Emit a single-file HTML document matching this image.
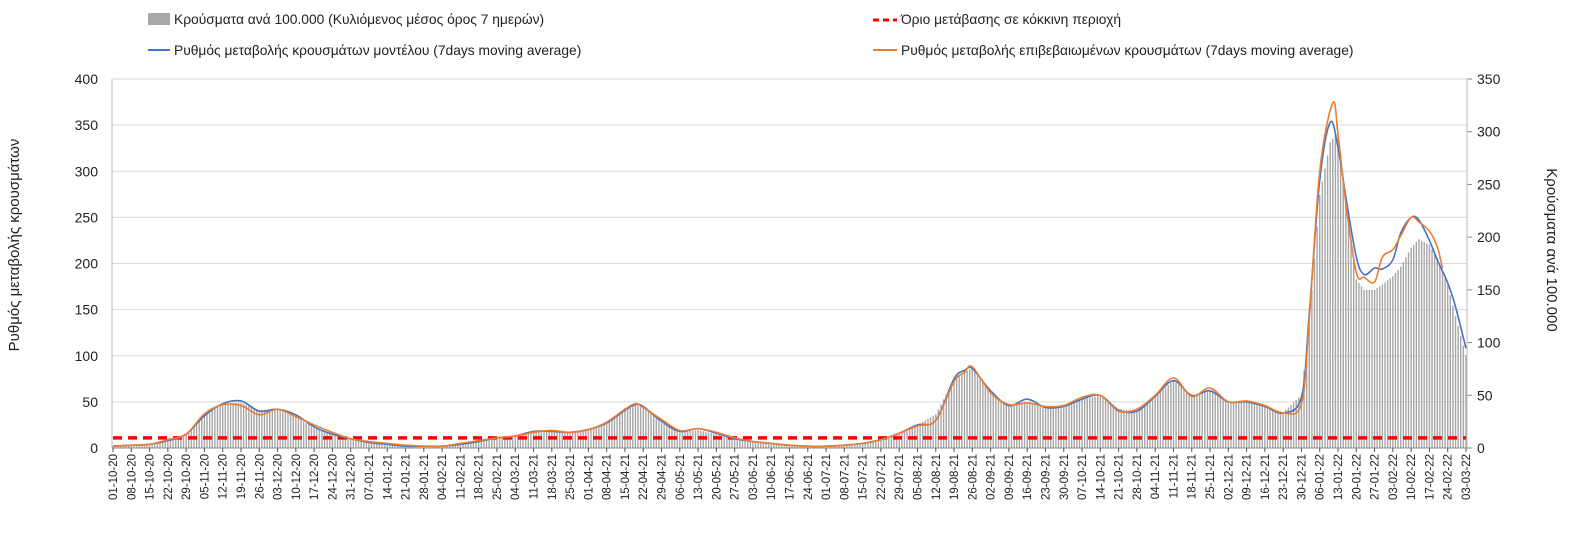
<!DOCTYPE html>
<html><head><meta charset="utf-8">
<style>
html,body{margin:0;padding:0;background:#fff;}
svg{display:block;font-family:"Liberation Sans",sans-serif;}
</style></head>
<body>
<svg id="chart" width="1572" height="536" viewBox="0 0 1572 536" xmlns="http://www.w3.org/2000/svg">
<g id="grid"></g>
<g id="bars"></g>
<g id="lines"></g>
<g id="axes"></g>
<g font-size="13.8" fill="#222">
<rect x="148" y="13" width="22" height="12" fill="#a8a8a8"/>
<text x="174" y="24">Κρούσματα ανά 100.000 (Κυλιόμενος μέσος όρος 7 ημερών)</text>
<line x1="873" y1="20" x2="897" y2="20" stroke="#ff0000" stroke-width="3" stroke-dasharray="6,4"/>
<text x="901" y="24">Όριο μετάβασης σε κόκκινη περιοχή</text>
<line x1="148" y1="50" x2="170" y2="50" stroke="#4472c4" stroke-width="2"/>
<text x="174" y="55">Ρυθμός μεταβολής κρουσμάτων μοντέλου (7days moving average)</text>
<line x1="873" y1="50" x2="897" y2="50" stroke="#ed7d31" stroke-width="2"/>
<text x="901" y="55">Ρυθμός μεταβολής επιβεβαιωμένων κρουσμάτων (7days moving average)</text>
</g>
<text transform="translate(19,245) rotate(-90)" text-anchor="middle" font-size="15" fill="#222">Ρυθμός μεταβολής κρουσμάτων</text>
<text transform="translate(1547,250) rotate(90)" text-anchor="middle" font-size="15" fill="#222">Κρούσματα ανά 100.000</text>
</svg>
<script>
// ---- data ----
const lineDays = [0,7,14,21,28,35,42,49,56,63,70,77,84,91,98,105,112,119,126,133,140,147,154,161,168,175,182,189,196,200,203,210,217,224,231,238,245,252,259,266,273,280,287,294,301,308,315,322,326,329,336,343,350,357,364,371,378,385,392,399,406,413,420,427,434,441,448,455,458,462,466,469,472,476,479,483,486,490,493,497,500,504,507,511,514,518];
const barVals = [2,3,4,7,13,30,42,43,36,37,30,19,13,9,5,3,2,2,2,4,6,10,12,15,17,15,18,24,38,41,40,24,15,17,13,8,6,4,3,2,2,3,5,8,14,22,32,65,72,76,52,41,43,38,39,46,50,37,35,49,64,50,55,44,44,40,34,50,120,240,290,300,235,160,150,150,155,163,172,190,198,193,180,155,125,88];
const modelVals = [2,3,4,8,15,35,48,51,40,42,36,23,15,10,6,4,2,2,2,4,7,11,13,18,18,17,20,27,41,47,45,29,18,21,16,10,7,5,3,2,2,3,5,9,16,25,30,75,84,86,62,46,53,44,45,53,57,41,40,56,73,57,62,50,50,45,38,55,146,290,353,326,272,207,188,195,194,204,233,250,247,225,204,179,153,108];
const confDays = [0,7,14,21,28,35,42,49,56,63,70,77,84,91,98,105,112,119,126,133,140,147,154,161,168,175,182,189,196,200,203,210,217,224,231,238,245,252,259,266,273,280,287,294,301,308,315,322,326,329,336,343,350,357,364,371,378,385,392,399,406,413,420,427,434,441,448,455,458,462,467,469,472,476,479,483,486,490,493,497,500,504,507,509];
const confVals = [2,3,4,9,15,37,47,46,36,42,34,25,17,10,7,5,3,2,2,5,8,11,13,17,19,17,20,28,42,48,44,31,19,21,17,11,7,5,3,2,2,3,5,9,16,24,30,72,82,88,60,47,49,45,46,55,57,40,42,57,76,56,65,50,51,46,38,48,140,300,374,340,265,190,185,180,207,215,230,250,245,235,218,195];
const threshold = 11;
const leftTicks = [0,50,100,150,200,250,300,350,400];
const rightTicks = [0,50,100,150,200,250,300,350];
const weekLabels = ["01-10-20","08-10-20","15-10-20","22-10-20","29-10-20","05-11-20","12-11-20","19-11-20","26-11-20","03-12-20","10-12-20","17-12-20","24-12-20","31-12-20","07-01-21","14-01-21","21-01-21","28-01-21","04-02-21","11-02-21","18-02-21","25-02-21","04-03-21","11-03-21","18-03-21","25-03-21","01-04-21","08-04-21","15-04-21","22-04-21","29-04-21","06-05-21","13-05-21","20-05-21","27-05-21","03-06-21","10-06-21","17-06-21","24-06-21","01-07-21","08-07-21","15-07-21","22-07-21","29-07-21","05-08-21","12-08-21","19-08-21","26-08-21","02-09-21","09-09-21","16-09-21","23-09-21","30-09-21","07-10-21","14-10-21","21-10-21","28-10-21","04-11-21","11-11-21","18-11-21","25-11-21","02-12-21","09-12-21","16-12-21","23-12-21","30-12-21","06-01-22","13-01-22","20-01-22","27-01-22","03-02-22","10-02-22","17-02-22","24-02-22","03-03-22"];

// ---- layout ----
const NS="http://www.w3.org/2000/svg";
const X0=113, X1=1466, TOP=79, BOT=448, TOTALDAYS=518;
function xDay(d){return X0+(X1-X0)*d/TOTALDAYS;}
function yL(v){return BOT-(BOT-TOP)*v/400;}
function yR(v){return BOT-(BOT-TOP)*v/350;}
function mk(tag,attrs,parent){const e=document.createElementNS(NS,tag);for(const k in attrs)e.setAttribute(k,attrs[k]);parent.appendChild(e);return e;}
const grid=document.getElementById('grid'),bars=document.getElementById('bars'),lines=document.getElementById('lines'),axes=document.getElementById('axes');

leftTicks.forEach(t=>{
  if(t>0){const g=mk('line',{x1:112,x2:1467,y1:yL(t),y2:yL(t),stroke:'#d9d9d9','stroke-width':1},grid);
  
  }
  const l=mk('text',{x:98,y:yL(t)+5,'text-anchor':'end','font-size':14,fill:'#222'},axes);
  l.textContent=t;
  
  
});
rightTicks.forEach(t=>{
  const tk=mk('line',{x1:1467,x2:1472,y1:yR(t),y2:yR(t),stroke:'#888'},axes);
  
  
  const l=mk('text',{x:1477,y:yR(t)+5,'font-size':14,fill:'#222'},axes);
  l.textContent=t;
  
  
});

// daily bars, value
function sampleAt(days,vals,d){
  for(let i=0;i<days.length-1;i++){
    if(d>=days[i]&&d<=days[i+1]){const f=(d-days[i])/(days[i+1]-days[i]);return vals[i]+(vals[i+1]-vals[i])*f;}
  }
  return vals[vals.length-1];
}
for(let d=0;d<=TOTALDAYS;d++){
  const v=sampleAt(lineDays,barVals,d);
  const r=mk('rect',{x:xDay(d)-0.7,y:yR(v),width:1.4,height:BOT-yR(v),fill:'#a6a6a6'},bars);
  
  
}

// threshold
const th=mk('line',{x1:xDay(0),x2:xDay(TOTALDAYS),y1:yL(threshold),y2:yL(threshold),stroke:'#ff0000','stroke-width':3.5,'stroke-dasharray':'9,6'},lines);



function smoothPath(days,vals){
  const p=days.map((d,i)=>[xDay(d),yL(vals[i])]);
  let s='M'+p[0][0]+','+p[0][1];
  for(let i=0;i<p.length-1;i++){
    const a=p[Math.max(0,i-1)],b=p[i],c=p[i+1],d=p[Math.min(p.length-1,i+2)];
    const c1x=b[0]+(c[0]-a[0])/6,c1y=b[1]+(c[1]-a[1])/6,c2x=c[0]-(d[0]-b[0])/6,c2y=c[1]-(d[1]-b[1])/6;
    s+=' C'+c1x+','+c1y+' '+c2x+','+c2y+' '+c[0]+','+c[1];
  }
  return s;
}
const ml=mk('path',{d:smoothPath(lineDays,modelVals),fill:'none',stroke:'#4472c4','stroke-width':1.6},lines);


const cl=mk('path',{d:smoothPath(confDays,confVals),fill:'none',stroke:'#ed7d31','stroke-width':1.6},lines);



// axes lines
const la=mk('line',{x1:112,x2:112,y1:TOP,y2:BOT,stroke:'#bbb'},axes);


const ra=mk('line',{x1:1467,x2:1467,y1:TOP,y2:BOT,stroke:'#bbb'},axes);


const xa=mk('line',{x1:112,x2:1467,y1:BOT,y2:BOT,stroke:'#888'},axes);


weekLabels.forEach((lab,i)=>{
  const x=xDay(i*7);
  const tk=mk('line',{x1:x,x2:x,y1:BOT,y2:BOT+4,stroke:'#555'},axes);
  
  
  const t=mk('text',{transform:'translate('+(x+4)+','+(BOT+6)+') rotate(-90)','text-anchor':'end','font-size':11.5,fill:'#222'},axes);
  t.textContent=lab;
  
  
});
</script>
</body></html>
